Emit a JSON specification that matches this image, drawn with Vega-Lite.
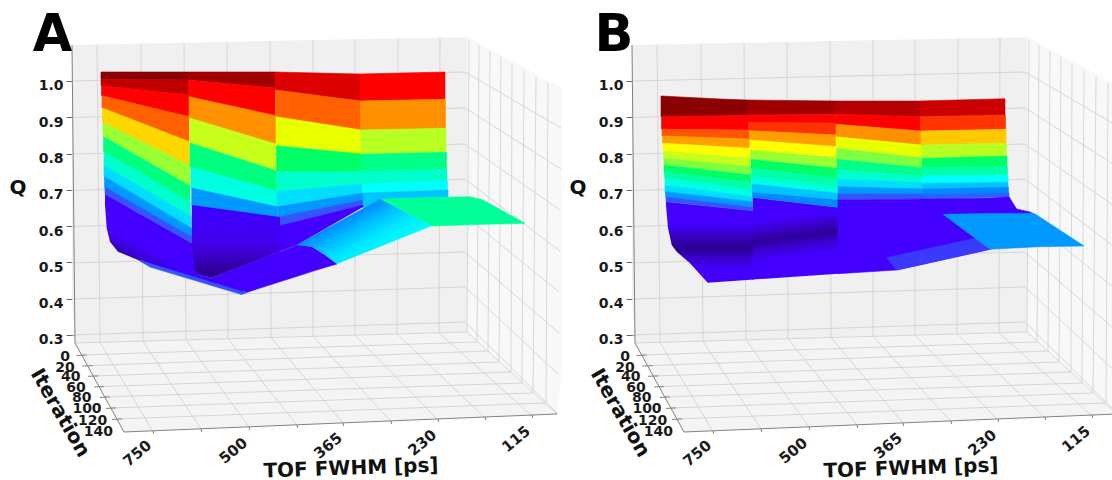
{"$schema":"https://vega.github.io/schema/vega-lite/v6.json","padding":0,"background":"white","spacing":0,"config":{"view":{"stroke":null},"font":"DejaVu Sans"},
"datasets":{
"palette":[{"t":"wb","c":"#f0f0f0"},{"t":"wr","c":"#f8f8f8"},{"t":"wf","c":"#f4f4f4"},{"t":"d1","c":"#8b0000"},{"t":"d2","c":"#a00000"},{"t":"d3","c":"#c00000"},{"t":"d3b","c":"#b40000"},{"t":"d4","c":"#dd0000"},{"t":"d5","c":"#cc0000"},{"t":"red","c":"#ff0000"},{"t":"r2","c":"#ff3300"},{"t":"r3","c":"#ff6000"},{"t":"r4","c":"#ff5500"},{"t":"o1","c":"#ff9000"},{"t":"o2","c":"#ffc800"},{"t":"o3","c":"#ffa000"},{"t":"y1","c":"#ffd700"},{"t":"y2","c":"#e8ff00"},{"t":"y3","c":"#ffff00"},{"t":"g1","c":"#c8ff1a"},{"t":"g2","c":"#b8ff22"},{"t":"g3","c":"#9aff33"},{"t":"g4","c":"#80ff40"},{"t":"s0","c":"#00ff7f"},{"t":"s1","c":"#00ff66"},{"t":"s2","c":"#00ff88"},{"t":"s3","c":"#00ffa8"},{"t":"s4","c":"#00ff99"},{"t":"c1","c":"#00ffcc"},{"t":"c2","c":"#00ffe0"},{"t":"c3","c":"#00ffff"},{"t":"b1","c":"#00ddff"},{"t":"b2","c":"#00c4ff"},{"t":"b3","c":"#0099ff"},{"t":"b4","c":"#0088ff"},{"t":"b5","c":"#3355ff"},{"t":"b6","c":"#2266ff"},{"t":"b7","c":"#3a3aff"},{"t":"p1","c":"#4400ff"}],
"walls":[{"p":1,"t":"wb","x":72,"y":45,"y2":300},{"p":1,"t":"wb","x":75,"y":45,"y2":343},{"p":1,"t":"wb","x":467,"y":37,"y2":332},{"p":2,"t":"wr","x":467,"y":37,"y2":332},{"p":2,"t":"wr","x":557,"y":85.3,"y2":414},{"p":2,"t":"wr","x":562,"y":88,"y2":370},{"p":3,"t":"wf","x":75,"y":343,"y2":343},{"p":3,"t":"wf","x":124,"y":341.6,"y2":432},{"p":3,"t":"wf","x":467,"y":332,"y2":417.7},{"p":3,"t":"wf","x":557,"y":414,"y2":414}],
"grid":[{"x":97,"y":44.5,"x2":100,"y2":342.3},{"x":141,"y":43.6,"x2":143,"y2":341.1},{"x":184,"y":42.7,"x2":186,"y2":339.9},{"x":227,"y":41.9,"x2":228,"y2":338.7},{"x":270,"y":41,"x2":271,"y2":337.5},{"x":313,"y":40.1,"x2":313,"y2":336.3},{"x":355,"y":39.3,"x2":355,"y2":335.1},{"x":398,"y":38.4,"x2":397,"y2":334},{"x":440,"y":37.5,"x2":439,"y2":332.8},
{"x":72,"y":81,"x2":465,"y2":72},{"x":72,"y":117.5,"x2":465,"y2":108},{"x":72,"y":154,"x2":465,"y2":144},{"x":72,"y":190.5,"x2":465,"y2":179.3},{"x":72,"y":226.5,"x2":465,"y2":215.5},{"x":72,"y":263,"x2":465,"y2":252},{"x":72,"y":299,"x2":465,"y2":287},{"x":72,"y":335,"x2":465,"y2":322},
{"x":465,"y":72,"x2":561,"y2":128},{"x":465,"y":108,"x2":561,"y2":169},{"x":465,"y":144,"x2":560,"y2":210},{"x":465,"y":179.3,"x2":560,"y2":251},{"x":465,"y":215.5,"x2":559,"y2":292},{"x":465,"y":252,"x2":559,"y2":333},{"x":465,"y":287,"x2":558,"y2":374},{"x":465,"y":322,"x2":558,"y2":414},
{"x":469,"y":40,"x2":467,"y2":332},{"x":479,"y":45,"x2":477,"y2":342},{"x":490,"y":51,"x2":488,"y2":351},{"x":501,"y":57,"x2":499,"y2":362},{"x":512,"y":64,"x2":511,"y2":372},{"x":524,"y":71,"x2":522,"y2":383},{"x":536,"y":77,"x2":533,"y2":393},{"x":548,"y":83,"x2":546,"y2":403},
{"x":100,"y":342.3,"x2":153,"y2":431.6},{"x":143,"y":341.1,"x2":201,"y2":429},{"x":186,"y":339.9,"x2":249,"y2":427},{"x":228,"y":338.7,"x2":297,"y2":425},{"x":271,"y":337.5,"x2":343,"y2":423},{"x":313,"y":336.3,"x2":391,"y2":421.7},{"x":355,"y":335.1,"x2":438,"y2":420},{"x":397,"y":334,"x2":485,"y2":418},{"x":439,"y":332.8,"x2":532,"y2":416},
{"x":81.6,"y":355,"x2":477,"y2":342},{"x":87.5,"y":365.7,"x2":488,"y2":351},{"x":93,"y":376,"x2":499,"y2":362},{"x":99,"y":386.7,"x2":511,"y2":372},{"x":104.7,"y":397,"x2":522,"y2":383},{"x":111,"y":408,"x2":533,"y2":393},{"x":117,"y":419,"x2":546,"y2":403},
{"x":75,"y":343,"x2":467,"y2":332},{"x":467,"y":332,"x2":557,"y2":414}],
"edges":[{"x":72,"y":45,"x2":75,"y2":343},{"x":75,"y":343,"x2":124,"y2":432},{"x":124,"y":432,"x2":557,"y2":414},
{"x":76.6,"y":355.5,"x2":86.6,"y2":355},{"x":82.5,"y":366,"x2":92.5,"y2":365.6},{"x":88,"y":376.3,"x2":98,"y2":375.9},{"x":94,"y":387,"x2":104,"y2":386.5},{"x":99.7,"y":397.4,"x2":109.7,"y2":396.9},{"x":106,"y":408.4,"x2":116,"y2":407.9},{"x":112,"y":419.4,"x2":122,"y2":418.9},
{"x":153,"y":431,"x2":153.7,"y2":434},{"x":201,"y":429,"x2":201.7,"y2":432},{"x":249,"y":427,"x2":249.7,"y2":430},{"x":297,"y":425,"x2":297.7,"y2":428},{"x":343,"y":423,"x2":343.7,"y2":426},{"x":391,"y":421,"x2":391.7,"y2":424},{"x":438,"y":419,"x2":438.7,"y2":422},{"x":485,"y":417,"x2":485.7,"y2":420},{"x":532,"y":415,"x2":532.7,"y2":418}],
"iterLabels":[{"label":"0","x":65,"y":357.3},{"label":"20","x":65,"y":368.3},{"label":"40","x":70.7,"y":377.3},{"label":"60","x":76,"y":388.3},{"label":"80","x":81.7,"y":398.3},{"label":"100","x":87,"y":409},{"label":"120","x":92.7,"y":420.7},{"label":"140","x":98.3,"y":432.3}],
"tofLabels":[{"label":"750","x":137.3,"y":453.3},{"label":"500","x":233.3,"y":450.7},{"label":"365","x":328,"y":445.7},{"label":"230","x":422.3,"y":442.7},{"label":"115","x":516,"y":439}],
"qTicks":[{"Q":0.3,"x":75},{"Q":0.4,"x":75},{"Q":0.5,"x":75},{"Q":0.6,"x":75},{"Q":0.7,"x":75},{"Q":0.8,"x":75},{"Q":0.9,"x":75},{"Q":1.0,"x":75}],
"surfA":[
{"p":1,"t":"d1","x":101,"y":72,"y2":79},{"p":1,"t":"d1","x":188,"y":72,"y2":80},
{"p":2,"t":"d3","x":101,"y":79,"y2":85.7},{"p":2,"t":"d3","x":188.5,"y":80,"y2":95},
{"p":3,"t":"red","x":101.5,"y":85.7,"y2":95.7},{"p":3,"t":"red","x":189,"y":95,"y2":116.7},
{"p":4,"t":"r3","x":102,"y":95.7,"y2":108},{"p":4,"t":"r3","x":189,"y":116.7,"y2":141.7},
{"p":5,"t":"y1","x":102.5,"y":108,"y2":122.7},{"p":5,"t":"y1","x":189.5,"y":141.7,"y2":165.7},
{"p":6,"t":"g3","x":103,"y":122.7,"y2":136.7},{"p":6,"t":"g3","x":190,"y":165.7,"y2":186},
{"p":7,"t":"s0","x":103.5,"y":136.7,"y2":151.7},{"p":7,"t":"s0","x":190,"y":186,"y2":202.3},
{"p":8,"t":"c1","x":104,"y":151.7,"y2":165.3},{"p":8,"t":"c1","x":190.5,"y":202.3,"y2":216.7},
{"p":9,"t":"b1","x":104,"y":165.3,"y2":176.7},{"p":9,"t":"b1","x":191,"y":216.7,"y2":228.3},
{"p":10,"t":"b3","x":104.5,"y":176.7,"y2":187.3},{"p":10,"t":"b3","x":191.5,"y":228.3,"y2":236.7},
{"p":11,"t":"b5","x":105,"y":187.3,"y2":194.3},{"p":11,"t":"b5","x":191.7,"y":236.7,"y2":243.3},
{"p":12,"t":"d2","x":188,"y":72,"y2":80},{"p":12,"t":"d2","x":275,"y":72,"y2":88},
{"p":13,"t":"red","x":188.5,"y":80,"y2":96.7},{"p":13,"t":"red","x":275,"y":88,"y2":115.7},
{"p":14,"t":"o1","x":189,"y":96.7,"y2":118},{"p":14,"t":"o1","x":276,"y":115.7,"y2":144},
{"p":15,"t":"g1","x":189.5,"y":118,"y2":143},{"p":15,"t":"g1","x":276,"y":144,"y2":170.7},
{"p":16,"t":"s0","x":190,"y":143,"y2":167},{"p":16,"t":"s0","x":276.5,"y":170.7,"y2":191},
{"p":17,"t":"c2","x":191,"y":167,"y2":188},{"p":17,"t":"c2","x":277,"y":191,"y2":206.7},
{"p":18,"t":"b3","x":191.7,"y":188,"y2":205},{"p":18,"t":"b3","x":277,"y":206.7,"y2":217.5},
{"p":19,"t":"d4","x":275,"y":72,"y2":90},{"p":19,"t":"d4","x":360,"y":74,"y2":101},
{"p":20,"t":"r3","x":275.5,"y":90,"y2":116.7},{"p":20,"t":"r3","x":360.5,"y":101,"y2":130},
{"p":21,"t":"y2","x":276,"y":116.7,"y2":145.7},{"p":21,"t":"y2","x":361,"y":130,"y2":154},
{"p":22,"t":"s1","x":276.5,"y":145.7,"y2":171.7},{"p":22,"t":"s1","x":361.5,"y":154,"y2":171.7},
{"p":23,"t":"c1","x":277,"y":171.7,"y2":191.7},{"p":23,"t":"c1","x":362,"y":171.7,"y2":184},
{"p":24,"t":"b1","x":277,"y":191.7,"y2":206.7},{"p":24,"t":"b1","x":362.5,"y":184,"y2":193},
{"p":25,"t":"b3","x":277.5,"y":206.7,"y2":217},{"p":25,"t":"b3","x":363,"y":193,"y2":200},
{"p":26,"t":"b5","x":277.7,"y":217,"y2":226},{"p":26,"t":"b5","x":363,"y":200,"y2":205},
{"p":27,"t":"red","x":360,"y":74,"y2":101},{"p":27,"t":"red","x":445,"y":72,"y2":99.3},
{"p":28,"t":"o1","x":360.5,"y":101,"y2":130},{"p":28,"t":"o1","x":445.5,"y":99.3,"y2":128.3},
{"p":29,"t":"g2","x":361,"y":130,"y2":154.3},{"p":29,"t":"g2","x":446,"y":128.3,"y2":152.3},
{"p":30,"t":"s2","x":361.5,"y":154.3,"y2":171.7},{"p":30,"t":"s2","x":446.5,"y":152.3,"y2":169.3},
{"p":31,"t":"c1","x":362,"y":171.7,"y2":184},{"p":31,"t":"c1","x":447,"y":169.3,"y2":181},
{"p":32,"t":"c3","x":362.5,"y":184,"y2":193},{"p":32,"t":"c3","x":447.5,"y":181,"y2":190},
{"p":33,"t":"b2","x":363,"y":193,"y2":200},{"p":33,"t":"b2","x":448,"y":190,"y2":197},
{"p":34,"t":"b2","x":363,"y":199,"y2":208},{"p":34,"t":"b2","x":380,"y":198,"y2":199.5},{"p":34,"t":"b2","x":386,"y":198,"y2":198},
{"p":42,"t":"p1","x":277.7,"y":226,"y2":252},{"p":42,"t":"p1","x":296.7,"y":221.6,"y2":245},{"p":42,"t":"p1","x":363,"y":205,"y2":206.7}],
"colA":[{"x":105,"y":194.3,"y2":205},{"x":106.7,"y":195.3,"y2":228},{"x":110,"y":197.1,"y2":241.7},{"x":118,"y":201.6,"y2":251.7},{"x":138,"y":212.9,"y2":260},{"x":148,"y":218.6,"y2":265},{"x":191.7,"y":243.3,"y2":278.5},{"x":196,"y":245.7,"y2":280}],
"wedgeA":[{"x":191.7,"y":205,"y2":243},{"x":196,"y":205.6,"y2":274},{"x":212,"y":207.8,"y2":277.7},{"x":280,"y":217,"y2":251.7}],
"floorA":[
{"p":43,"t":"p1","x":196,"y":274,"y2":280},{"p":43,"t":"p1","x":212,"y":277.7,"y2":285},{"p":43,"t":"p1","x":241.7,"y":266.3,"y2":294},{"p":43,"t":"p1","x":280,"y":251.7,"y2":281.7},{"p":43,"t":"p1","x":298,"y":245,"y2":276},{"p":43,"t":"p1","x":311.7,"y":246.7,"y2":271.6},{"p":43,"t":"p1","x":325,"y":255,"y2":267.4},{"p":43,"t":"p1","x":337,"y":264,"y2":264},
{"p":44,"t":"b5","x":140,"y":260,"y2":261},{"p":44,"t":"b5","x":150,"y":263.5,"y2":267},{"p":44,"t":"b5","x":241.7,"y":291.5,"y2":294.5},{"p":44,"t":"b5","x":246,"y":291.5,"y2":292.8},
{"p":49,"t":"s4","x":380,"y":199,"y2":199},{"p":49,"t":"s4","x":431.7,"y":197.5,"y2":226},{"p":49,"t":"s4","x":470,"y":196.7,"y2":224.8},{"p":49,"t":"s4","x":483,"y":200,"y2":224.3},{"p":49,"t":"s4","x":525,"y":223.3,"y2":223.3}],
"humpA":[{"x":296.7,"y":245,"y2":245},{"x":311.7,"y":236.7,"y2":246.7},{"x":325,"y":229.3,"y2":255},{"x":337,"y":222.7,"y2":264},{"x":380,"y":199,"y2":246.7},{"x":431.7,"y":226,"y2":226}],
"surfB":[
{"p":1,"t":"d1","x":101,"y":96,"y2":116.7},{"p":1,"t":"d1","x":160,"y":99,"y2":116},{"p":1,"t":"d1","x":188,"y":100,"y2":115},
{"p":2,"t":"red","x":101.5,"y":116.7,"y2":129.3},{"p":2,"t":"red","x":188.5,"y":115,"y2":130},
{"p":3,"t":"r4","x":102,"y":129.3,"y2":136},{"p":3,"t":"r4","x":189,"y":130,"y2":139},
{"p":4,"t":"o3","x":102.5,"y":136,"y2":143.3},{"p":4,"t":"o3","x":189.5,"y":139,"y2":148.3},
{"p":5,"t":"y3","x":103,"y":143.3,"y2":151},{"p":5,"t":"y3","x":190,"y":148.3,"y2":158.3},
{"p":6,"t":"g1","x":103.5,"y":151,"y2":158.3},{"p":6,"t":"g1","x":190.5,"y":158.3,"y2":166.7},
{"p":7,"t":"g4","x":104,"y":158.3,"y2":165},{"p":7,"t":"g4","x":191,"y":166.7,"y2":175},
{"p":8,"t":"s1","x":104,"y":165,"y2":172},{"p":8,"t":"s1","x":191,"y":175,"y2":182.7},
{"p":9,"t":"s3","x":104.5,"y":172,"y2":178.3},{"p":9,"t":"s3","x":191.5,"y":182.7,"y2":190},
{"p":10,"t":"c2","x":105,"y":178.3,"y2":185.3},{"p":10,"t":"c2","x":192,"y":190,"y2":196.7},
{"p":11,"t":"b1","x":105,"y":185.3,"y2":191.7},{"p":11,"t":"b1","x":192,"y":196.7,"y2":201.7},
{"p":12,"t":"b3","x":105.5,"y":191.7,"y2":197},{"p":12,"t":"b3","x":192.5,"y":201.7,"y2":207.3},
{"p":13,"t":"b5","x":106,"y":197,"y2":201.7},{"p":13,"t":"b5","x":192.7,"y":207.3,"y2":210.7},
{"p":14,"t":"d2","x":188,"y":100,"y2":115},{"p":14,"t":"d2","x":275,"y":101,"y2":114.3},
{"p":15,"t":"red","x":188.5,"y":115,"y2":122.7},{"p":15,"t":"red","x":275.5,"y":114.3,"y2":123},
{"p":16,"t":"r2","x":189,"y":122.7,"y2":130.7},{"p":16,"t":"r2","x":276,"y":123,"y2":135},
{"p":17,"t":"o3","x":189.5,"y":130.7,"y2":140},{"p":17,"t":"o3","x":276,"y":135,"y2":146.7},
{"p":18,"t":"y3","x":190,"y":140,"y2":150},{"p":18,"t":"y3","x":276.5,"y":146.7,"y2":157.7},
{"p":19,"t":"g3","x":190.5,"y":150,"y2":159.3},{"p":19,"t":"g3","x":277,"y":157.7,"y2":168.3},
{"p":20,"t":"s1","x":191,"y":159.3,"y2":168.3},{"p":20,"t":"s1","x":277,"y":168.3,"y2":178.3},
{"p":21,"t":"s3","x":191.5,"y":168.3,"y2":176.7},{"p":21,"t":"s3","x":277.5,"y":178.3,"y2":186.7},
{"p":22,"t":"c2","x":192,"y":176.7,"y2":184},{"p":22,"t":"c2","x":277.5,"y":186.7,"y2":193.3},
{"p":23,"t":"b2","x":192,"y":184,"y2":192.7},{"p":23,"t":"b2","x":278,"y":193.3,"y2":200},
{"p":24,"t":"b4","x":192.5,"y":192.7,"y2":197.3},{"p":24,"t":"b4","x":278,"y":200,"y2":207.3},
{"p":25,"t":"d3b","x":275,"y":101,"y2":114.3},{"p":25,"t":"d3b","x":360,"y":101,"y2":116.7},
{"p":26,"t":"red","x":275.5,"y":114.3,"y2":124.3},{"p":26,"t":"red","x":360.5,"y":116.7,"y2":131},
{"p":27,"t":"o1","x":276,"y":124.3,"y2":136.7},{"p":27,"t":"o1","x":361,"y":131,"y2":145},
{"p":28,"t":"y2","x":276,"y":136.7,"y2":148.3},{"p":28,"t":"y2","x":361.5,"y":145,"y2":157.7},
{"p":29,"t":"g4","x":276.5,"y":148.3,"y2":159.3},{"p":29,"t":"g4","x":362,"y":157.7,"y2":167.7},
{"p":30,"t":"s2","x":277,"y":159.3,"y2":170},{"p":30,"t":"s2","x":362,"y":167.7,"y2":176},
{"p":31,"t":"c1","x":277,"y":170,"y2":179},{"p":31,"t":"c1","x":362.5,"y":176,"y2":182.7},
{"p":32,"t":"b1","x":277.5,"y":179,"y2":186.7},{"p":32,"t":"b1","x":362.5,"y":182.7,"y2":189},
{"p":33,"t":"b3","x":278,"y":186.7,"y2":194},{"p":33,"t":"b3","x":363,"y":189,"y2":194},
{"p":34,"t":"b5","x":278,"y":194,"y2":200},{"p":34,"t":"b5","x":363,"y":194,"y2":199},
{"p":35,"t":"d5","x":360,"y":101,"y2":116.7},{"p":35,"t":"d5","x":445,"y":98.7,"y2":115},
{"p":36,"t":"r2","x":360.5,"y":116.7,"y2":131},{"p":36,"t":"r2","x":445.5,"y":115,"y2":129.3},
{"p":37,"t":"o2","x":361,"y":131,"y2":145},{"p":37,"t":"o2","x":446,"y":129.3,"y2":143.3},
{"p":38,"t":"g2","x":361.5,"y":145,"y2":158.3},{"p":38,"t":"g2","x":446.5,"y":143.3,"y2":156},
{"p":39,"t":"s1","x":362,"y":158.3,"y2":167.7},{"p":39,"t":"s1","x":447,"y":156,"y2":166.7},
{"p":40,"t":"s3","x":362,"y":167.7,"y2":176},{"p":40,"t":"s3","x":447.5,"y":166.7,"y2":175},
{"p":41,"t":"c3","x":362.5,"y":176,"y2":183.3},{"p":41,"t":"c3","x":448,"y":175,"y2":182.3},
{"p":42,"t":"b2","x":362.5,"y":183.3,"y2":189},{"p":42,"t":"b2","x":448,"y":182.3,"y2":187.3},
{"p":43,"t":"b4","x":363,"y":189,"y2":194},{"p":43,"t":"b4","x":448.5,"y":187.3,"y2":192.7},
{"p":44,"t":"b6","x":363,"y":194,"y2":199},{"p":44,"t":"b6","x":449,"y":192.7,"y2":196.7},
{"p":47,"t":"p1","x":278,"y":200,"y2":273.7},{"p":47,"t":"p1","x":336.7,"y":199.5,"y2":270},{"p":47,"t":"p1","x":363,"y":199,"y2":264.2},
{"p":48,"t":"p1","x":363,"y":199,"y2":264.2},{"p":48,"t":"p1","x":430,"y":198,"y2":249.3},{"p":48,"t":"p1","x":449,"y":196.7,"y2":240},{"p":48,"t":"p1","x":451,"y":200,"y2":240},{"p":48,"t":"p1","x":456.7,"y":209,"y2":240},{"p":48,"t":"p1","x":470,"y":212,"y2":240},{"p":48,"t":"p1","x":476,"y":215,"y2":215},
{"p":56,"t":"b7","x":326.7,"y":257.7,"y2":257.7},{"p":56,"t":"b7","x":336.7,"y":255.5,"y2":270},{"p":56,"t":"b7","x":415,"y":238.3,"y2":252.6},{"p":56,"t":"b7","x":430,"y":249.3,"y2":249.3},
{"p":57,"t":"b3","x":383,"y":214.3,"y2":214.3},{"p":57,"t":"b3","x":430,"y":213.6,"y2":249.3},{"p":57,"t":"b3","x":473,"y":213.3,"y2":247},{"p":57,"t":"b3","x":476.7,"y":215,"y2":246.8},{"p":57,"t":"b3","x":524,"y":246,"y2":246}],
"seg1B":[{"x":106,"y":201.7,"y2":205},{"x":108,"y":201.9,"y2":228},{"x":111.7,"y":202.3,"y2":245},{"x":116.7,"y":202.8,"y2":251.7},{"x":130,"y":204.2,"y2":263.3},{"x":147.7,"y":206,"y2":282.7},{"x":194,"y":210.8,"y2":279.5}],
"seg2B":[{"x":192.5,"y":197.3,"y2":279.6},{"x":278,"y":207.3,"y2":273.7}]
},
"hconcat":[
{"width":566,"height":480,"resolve":{"scale":{"y":"independent"}},
"encoding":{"x":{"field":"x","type":"quantitative","scale":{"domain":[0,566],"nice":false,"zero":false},"axis":null},"y":{"field":"y","type":"quantitative","scale":{"domain":[480,0],"nice":false,"zero":false},"axis":null,"stack":null}},
"layer":[
{"data":{"name":"walls"},"transform":[{"lookup":"t","from":{"data":{"name":"palette"},"key":"t","fields":["c"]}}],"mark":{"type":"area"},"encoding":{"y2":{"field":"y2"},"detail":{"field":"p"},"fill":{"field":"c","type":"nominal","scale":null,"legend":null}}},
{"data":{"name":"grid"},"mark":{"type":"rule","stroke":"#d6d6d6","strokeWidth":1},"encoding":{"x2":{"field":"x2"},"y2":{"field":"y2"}}},
{"data":{"name":"edges"},"mark":{"type":"rule","stroke":"#808080","strokeWidth":1},"encoding":{"x2":{"field":"x2"},"y2":{"field":"y2"}}},
{"data":{"name":"surfA"},"transform":[{"lookup":"t","from":{"data":{"name":"palette"},"key":"t","fields":["c"]}}],"mark":{"type":"area","strokeWidth":0.6},"encoding":{"y2":{"field":"y2"},"detail":{"field":"p"},"fill":{"field":"c","type":"nominal","scale":null,"legend":null},"stroke":{"field":"c","type":"nominal","scale":null,"legend":null}}},
{"data":{"name":"colA"},"mark":{"type":"area","fill":{"gradient":"linear","x1":0,"y1":0,"x2":-0.259,"y2":0.437,"stops":[{"offset":0,"color":"#4400ff"},{"offset":0.6,"color":"#4400ff"},{"offset":0.85,"color":"#3c00d8"},{"offset":1,"color":"#3000a8"}]}},"encoding":{"y2":{"field":"y2"}}},
{"data":{"name":"wedgeA"},"mark":{"type":"area","fill":{"gradient":"linear","x1":0,"y1":0,"x2":0,"y2":1,"stops":[{"offset":0,"color":"#3a00ff"},{"offset":0.5,"color":"#4400f0"},{"offset":0.7,"color":"#3a00c8"},{"offset":0.9,"color":"#2c0098"},{"offset":1,"color":"#240080"}]}},"encoding":{"y2":{"field":"y2"}}},
{"data":{"name":"floorA"},"transform":[{"lookup":"t","from":{"data":{"name":"palette"},"key":"t","fields":["c"]}}],"mark":{"type":"area","strokeWidth":0.6},"encoding":{"y2":{"field":"y2"},"detail":{"field":"p"},"fill":{"field":"c","type":"nominal","scale":null,"legend":null},"stroke":{"field":"c","type":"nominal","scale":null,"legend":null}}},
{"data":{"name":"humpA"},"mark":{"type":"area","fill":{"gradient":"linear","x1":0.306,"y1":0.354,"x2":0.731,"y2":0.724,"stops":[{"offset":0,"color":"#0088ff"},{"offset":0.3,"color":"#00bbff"},{"offset":0.6,"color":"#00e5ff"},{"offset":1,"color":"#00ffff"}]}},"encoding":{"y2":{"field":"y2"}}},
{"data":{"name":"iterLabels"},"mark":{"type":"text","fontSize":14,"fontWeight":"bold","font":"DejaVu Sans","color":"#1a1a1a","align":"center","baseline":"middle"},"encoding":{"text":{"field":"label"}}},
{"data":{"name":"tofLabels"},"mark":{"type":"text","fontSize":15,"fontWeight":"bold","font":"DejaVu Sans","color":"#1a1a1a","align":"center","baseline":"middle","angle":-40},"encoding":{"text":{"field":"label"}}},
{"data":{"values":[{"label":"TOF FWHM [ps]","x":351,"y":468.5}]},"mark":{"type":"text","fontSize":20,"fontWeight":"bold","font":"DejaVu Sans","color":"#111","align":"center","baseline":"middle","angle":-2},"encoding":{"text":{"field":"label"}}},
{"data":{"values":[{"label":"Iteration","x":60,"y":413}]},"mark":{"type":"text","fontSize":20,"fontWeight":"bold","font":"DejaVu Sans","color":"#111","align":"center","baseline":"middle","angle":60},"encoding":{"text":{"field":"label"}}},
{"data":{"values":[{"label":"Q","x":18,"y":187.6}]},"mark":{"type":"text","fontSize":20,"fontWeight":"bold","font":"DejaVu Sans","color":"#111","align":"center","baseline":"middle"},"encoding":{"text":{"field":"label"}}},
{"data":{"values":[{"label":"A","x":52.5,"y":51}]},"mark":{"type":"text","fontSize":51,"fontWeight":"bold","font":"DejaVu Sans","color":"#000","align":"center","baseline":"alphabetic"},"encoding":{"text":{"field":"label"}}},
{"data":{"name":"qTicks"},"mark":{"type":"point","opacity":0},"encoding":{"y":{"field":"Q","type":"quantitative","scale":{"domain":[-0.0996,1.2232],"nice":false,"zero":false},"axis":{"orient":"left","offset":-75,"values":[0.3,0.4,0.5,0.6,0.7,0.8,0.9,1.0],"format":".1f","title":null,"domain":false,"grid":false,"tickSize":9,"tickColor":"#666","labelPadding":3,"labelOffset":5,"labelFont":"DejaVu Sans","labelFontSize":14,"labelFontWeight":"bold","labelColor":"#1a1a1a"}}}}
]},
{"width":546,"height":480,"resolve":{"scale":{"y":"independent"}},
"encoding":{"x":{"field":"x","type":"quantitative","scale":{"domain":[6,552],"nice":false,"zero":false},"axis":null},"y":{"field":"y","type":"quantitative","scale":{"domain":[480,0],"nice":false,"zero":false},"axis":null,"stack":null}},
"layer":[
{"data":{"name":"walls"},"transform":[{"lookup":"t","from":{"data":{"name":"palette"},"key":"t","fields":["c"]}}],"mark":{"type":"area"},"encoding":{"y2":{"field":"y2"},"detail":{"field":"p"},"fill":{"field":"c","type":"nominal","scale":null,"legend":null}}},
{"data":{"name":"grid"},"mark":{"type":"rule","stroke":"#d6d6d6","strokeWidth":1},"encoding":{"x2":{"field":"x2"},"y2":{"field":"y2"}}},
{"data":{"name":"edges"},"mark":{"type":"rule","stroke":"#808080","strokeWidth":1},"encoding":{"x2":{"field":"x2"},"y2":{"field":"y2"}}},
{"data":{"name":"seg1B"},"mark":{"type":"area","fill":{"gradient":"linear","x1":0,"y1":0,"x2":0,"y2":1,"stops":[{"offset":0,"color":"#4400ff"},{"offset":0.28,"color":"#4400ff"},{"offset":0.42,"color":"#3800c8"},{"offset":0.5,"color":"#3000a8"},{"offset":0.56,"color":"#2a0090"},{"offset":0.63,"color":"#3000a8"},{"offset":0.72,"color":"#3c00d8"},{"offset":0.84,"color":"#4400ff"},{"offset":1,"color":"#4400ff"}]}},"encoding":{"y2":{"field":"y2"}}},
{"data":{"name":"seg2B"},"mark":{"type":"area","fill":{"gradient":"linear","x1":0,"y1":0,"x2":0.134,"y2":1,"stops":[{"offset":0,"color":"#4400ff"},{"offset":0.3,"color":"#4400ff"},{"offset":0.44,"color":"#3800c0"},{"offset":0.54,"color":"#2c0098"},{"offset":0.66,"color":"#3c00d8"},{"offset":0.78,"color":"#4400ff"},{"offset":1,"color":"#4400ff"}]}},"encoding":{"y2":{"field":"y2"}}},
{"data":{"name":"surfB"},"transform":[{"lookup":"t","from":{"data":{"name":"palette"},"key":"t","fields":["c"]}}],"mark":{"type":"area","strokeWidth":0.6},"encoding":{"y2":{"field":"y2"},"detail":{"field":"p"},"fill":{"field":"c","type":"nominal","scale":null,"legend":null},"stroke":{"field":"c","type":"nominal","scale":null,"legend":null}}},
{"data":{"name":"iterLabels"},"mark":{"type":"text","fontSize":14,"fontWeight":"bold","font":"DejaVu Sans","color":"#1a1a1a","align":"center","baseline":"middle"},"encoding":{"text":{"field":"label"}}},
{"data":{"name":"tofLabels"},"mark":{"type":"text","fontSize":15,"fontWeight":"bold","font":"DejaVu Sans","color":"#1a1a1a","align":"center","baseline":"middle","angle":-40},"encoding":{"text":{"field":"label"}}},
{"data":{"values":[{"label":"TOF FWHM [ps]","x":351,"y":468.5}]},"mark":{"type":"text","fontSize":20,"fontWeight":"bold","font":"DejaVu Sans","color":"#111","align":"center","baseline":"middle","angle":-2},"encoding":{"text":{"field":"label"}}},
{"data":{"values":[{"label":"Iteration","x":60,"y":413}]},"mark":{"type":"text","fontSize":20,"fontWeight":"bold","font":"DejaVu Sans","color":"#111","align":"center","baseline":"middle","angle":60},"encoding":{"text":{"field":"label"}}},
{"data":{"values":[{"label":"Q","x":18,"y":187.6}]},"mark":{"type":"text","fontSize":20,"fontWeight":"bold","font":"DejaVu Sans","color":"#111","align":"center","baseline":"middle"},"encoding":{"text":{"field":"label"}}},
{"data":{"values":[{"label":"B","x":54,"y":51}]},"mark":{"type":"text","fontSize":51,"fontWeight":"bold","font":"DejaVu Sans","color":"#000","align":"center","baseline":"alphabetic"},"encoding":{"text":{"field":"label"}}},
{"data":{"name":"qTicks"},"mark":{"type":"point","opacity":0},"encoding":{"y":{"field":"Q","type":"quantitative","scale":{"domain":[-0.0996,1.2232],"nice":false,"zero":false},"axis":{"orient":"left","offset":-69,"values":[0.3,0.4,0.5,0.6,0.7,0.8,0.9,1.0],"format":".1f","title":null,"domain":false,"grid":false,"tickSize":9,"tickColor":"#666","labelPadding":3,"labelOffset":5,"labelFont":"DejaVu Sans","labelFontSize":14,"labelFontWeight":"bold","labelColor":"#1a1a1a"}}}}
]}
]}
